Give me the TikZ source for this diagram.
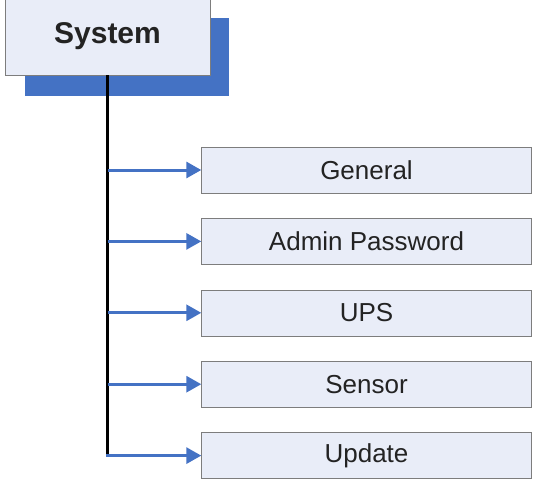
\documentclass[tikz,border=0pt]{standalone}
\usepackage{fontspec}
\setmainfont{Liberation Sans}
\usepackage{xcolor}
\usetikzlibrary{positioning,arrows.meta}
\definecolor{menublue}{RGB}{68,114,196}
\definecolor{menufill}{RGB}{233,237,248}
\definecolor{menuline}{RGB}{125,125,125}
\definecolor{menutext}{RGB}{35,35,35}

\begin{document}
\begin{tikzpicture}[x=1pt,y=-1pt,
        sysbox/.style={draw=menuline, fill=menufill, minimum width=205pt, minimum height=90pt, inner sep=0pt, text height=34pt, text depth=6pt, font=\fontsize{30}{30}\selectfont\bfseries, text=menutext},
        itembox/.style={draw=menuline, fill=menufill, minimum width=330pt, minimum height=46pt, inner sep=0pt, font=\fontsize{26}{26}\selectfont, text=menutext},
        branch/.style={menublue, line width=3pt, -{Triangle[length=15pt,width=16pt]}}]
        \useasboundingbox (0,0) rectangle (540,484);
        \fill[menublue] (25,18) rectangle (229,96);
        \node[sysbox] (sys) at (107.5,30) {System};
        
        \node[itembox] (general) at (366.5,170) {General};
        \node[itembox, below=25pt of general] (admin) {Admin Password};
        \node[itembox, below=25pt of admin] (ups) {UPS};
        \node[itembox, below=25pt of ups] (sensor) {Sensor};
        \node[itembox, below=25pt of sensor] (update) {Update};
        
        \draw[line width=3.5pt] (sys.south) -- (sys.south |- update.west);
        \draw[branch] (sys.south |- general.west) -- (general.west);
        \draw[branch] (sys.south |- admin.west) -- (admin.west);
        \draw[branch] (sys.south |- ups.west) -- (ups.west);
        \draw[branch] (sys.south |- sensor.west) -- (sensor.west);
        \draw[branch] ([xshift=-1.75pt]sys.south |- update.west) -- (update.west);
    \end{tikzpicture}
\end{document}
